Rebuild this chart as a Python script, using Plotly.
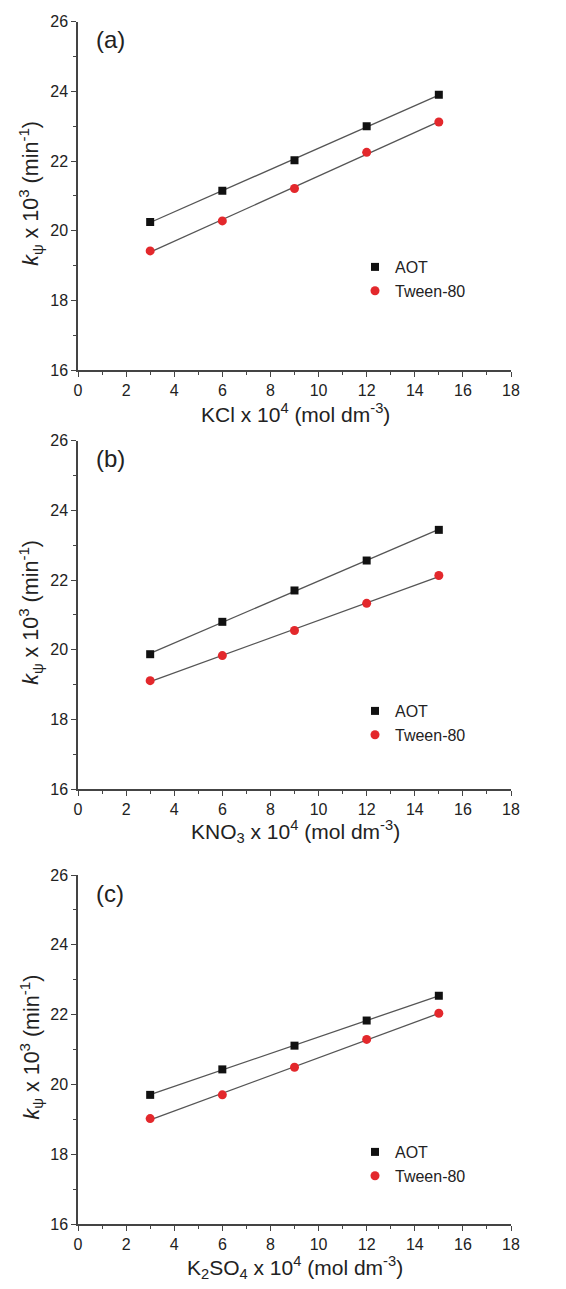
import numpy as np
import plotly.graph_objects as go

# ---- data ----
conc = [3, 6, 9, 12, 15]
aot_kcl = [20.25, 21.15, 22.02, 23.00, 23.90]
tween_kcl = [19.42, 20.28, 21.21, 22.25, 23.12]
aot_kno3 = [19.87, 20.80, 21.70, 22.56, 23.44]
tween_kno3 = [19.11, 19.83, 20.55, 21.33, 22.13]
aot_k2so4 = [19.70, 20.43, 21.11, 21.83, 22.54]
tween_k2so4 = [19.02, 19.70, 20.49, 21.29, 22.04]

panel_labels = ["(a)", "(b)", "(c)"]
salt_names = ["KCl", "KNO<sub>3</sub>", "K<sub>2</sub>SO<sub>4</sub>"]

panels = [(aot_kcl, tween_kcl), (aot_kno3, tween_kno3), (aot_k2so4, tween_k2so4)]

W, H = 566, 1289
OFF = 8  # page body margin offset
# target pixel positions in the reference (page coordinates)
PL, PR = 78, 511
tops = [21.7, 440.7, 875.0]
bots = [370.0, 789.0, 1224.0]
legend_tops = [250, 694, 1135]

ML = PL - OFF
MR = W - (PR - OFF)
PW = PR - PL

FONT = "Liberation Sans, Arial, sans-serif"
TXT = "#222222"
AX = "#444444"
RED = "#e3282c"

def px_x(p):
    return (p - PL) / PW

def px_y(p):
    return 1 - (p - OFF) / H

fig = go.Figure()
annotations = []
layout_axes = {}

for i, (aot, tween) in enumerate(panels):
    n = i + 1
    xa = "x" if n == 1 else f"x{n}"
    ya = "y" if n == 1 else f"y{n}"
    lg = "legend" if n == 1 else f"legend{n}"
    xc = np.array(conc, dtype=float)
    for vals in (aot, tween):
        slope, icpt = np.polyfit(xc, np.array(vals), 1)
        xfit = np.array([xc.min(), xc.max()])
        fig.add_trace(go.Scatter(x=xfit, y=slope * xfit + icpt, mode="lines",
                                 line=dict(color="#555555", width=1.3),
                                 showlegend=False, hoverinfo="skip",
                                 xaxis=xa, yaxis=ya))
    for vals, name, sym, col, sz in [(aot, "AOT", "square", "#111111", 8),
                                     (tween, "Tween-80", "circle", RED, 9)]:
        fig.add_trace(go.Scatter(x=conc, y=vals, mode="markers", name=name,
                                 marker=dict(symbol=sym, size=sz, color=col, line=dict(width=0)),
                                 xaxis=xa, yaxis=ya, legend=lg))

    dom = [px_y(bots[i]), px_y(tops[i])]
    axcommon = dict(showgrid=False, zeroline=False, showline=True, linecolor=AX, linewidth=1.5,
                    ticks="outside", ticklen=5, tickwidth=1.3, tickcolor=AX,
                    tickfont=dict(family=FONT, size=16, color=TXT), automargin=False,
                    mirror=False)
    layout_axes["xaxis" if n == 1 else f"xaxis{n}"] = dict(
        range=[0, 18], dtick=2, tick0=0, anchor=ya, domain=[0, 1],
        minor=dict(dtick=1, ticks="outside", ticklen=3, tickwidth=1.2, tickcolor=AX),
        **axcommon)
    layout_axes["yaxis" if n == 1 else f"yaxis{n}"] = dict(
        range=[16, 26], dtick=2, tick0=16, anchor=xa, domain=dom,
        minor=dict(dtick=1, ticks="outside", ticklen=3, tickwidth=1.2, tickcolor=AX),
        **axcommon)
    layout_axes["legend" if n == 1 else f"legend{n}"] = dict(
        x=px_x(355), y=px_y(legend_tops[i]), xanchor="left", yanchor="top",
        bgcolor="rgba(0,0,0,0)", borderwidth=0,
        font=dict(family=FONT, size=16, color=TXT))

    # panel label
    annotations.append(dict(text=panel_labels[i], xref="paper", yref="paper",
                            x=px_x(110), y=px_y(tops[i] + 18), xanchor="center", yanchor="middle",
                            showarrow=False, font=dict(family=FONT, size=24, color=TXT)))
    # x title
    annotations.append(dict(text=f"{salt_names[i]} x 10<sup>4</sup> (mol dm<sup>-3</sup>)",
                            xref="paper", yref="paper", x=px_x(295), y=px_y(bots[i] + 43),
                            xanchor="center", yanchor="middle", showarrow=False,
                            font=dict(family=FONT, size=21, color=TXT)))
    # y title
    annotations.append(dict(text="<i>k</i><sub>ψ</sub> x 10<sup>3</sup> (min<sup>-1</sup>)",
                            xref="paper", yref="paper", x=px_x(31),
                            y=px_y((tops[i] + bots[i]) / 2 - 2),
                            xanchor="center", yanchor="middle", textangle=-90, showarrow=False,
                            font=dict(family=FONT, size=21.5, color=TXT)))

fig.update_layout(width=W, height=H, margin=dict(l=ML, r=MR, t=0, b=0),
                  paper_bgcolor="white", plot_bgcolor="white",
                  annotations=annotations, **layout_axes)

fig.write_html("out.html")
